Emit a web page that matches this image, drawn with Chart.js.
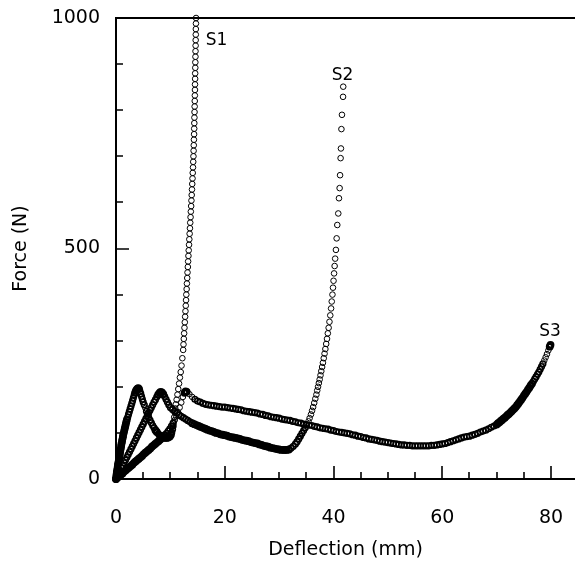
<!DOCTYPE html>
<html>
<head>
<meta charset="utf-8">
<script src="https://cdn.jsdelivr.net/npm/chart.js@4.4.1/dist/chart.umd.min.js"></script>
<style>
  html, body { margin: 0; padding: 0; background: #fff; }
  #wrap { width: 575px; height: 563px; position: relative; }
</style>
</head>
<body>
<div id="wrap"><canvas id="c"></canvas></div>
<script>
// ---- data: [deflection (mm), force (N)] ----
const s1 = [[0,0],[0.05,5],[0.1,10],[0.15,15],[0.2,19],[0.3,25],[0.35,30],[0.4,34],[0.5,39],[0.55,44],[0.6,48],[0.7,53],[0.75,58],[0.8,62],[0.9,67],[0.95,72],[1.0,76],[1.1,81],[1.15,85],[1.25,90],[1.3,94],[1.4,99],[1.5,104],[1.6,109],[1.7,114],[1.8,119],[1.9,124],[2.0,129],[2.15,134],[2.3,140],[2.45,146],[2.6,152],[2.75,158],[2.9,164],[3.05,170],[3.2,176],[3.35,182],[3.5,187],[3.65,191],[3.8,194],[3.95,196],[4.1,197],
[4.25,195],[4.4,190],[4.55,185],[4.7,179],[4.85,173],[5.0,167],[5.2,161],[5.4,154],[5.6,147],[5.8,141],[6.0,134],[6.25,128],[6.5,122],[6.75,116],[7.0,111],[7.25,106],[7.5,102],[7.8,98],[8.1,94],[8.4,91],[8.7,90],[9.0,89],[9.3,89],[9.6,90],[9.9,92],
[10.1,96],[10.25,101],[10.4,108],[10.5,115],[10.6,124],[10.7,134],[10.8,144],[10.9,153],[11.0,162],[11.15,172],[11.3,183],[11.45,195],[11.6,207],[11.75,220],[11.9,232],[12.05,246],[12.2,262],[12.35,280],
[12.41,292],[12.47,304],[12.53,316],[12.59,328],[12.65,340],[12.71,352],[12.77,364],[12.83,376],[12.88,388],[12.93,400],[12.99,412],[13.04,424],[13.1,436],[13.15,448],[13.21,460],[13.26,472],[13.32,484],[13.37,496],[13.43,508],[13.48,520],[13.54,532],[13.6,544],[13.65,556],[13.71,568],[13.76,580],[13.82,592],[13.87,604],[13.92,616],[13.97,628],[14.02,640],[14.07,652],[14.11,664],[14.16,676],[14.2,688],[14.24,700],[14.27,712],[14.3,724],[14.33,736],[14.36,748],[14.38,760],[14.4,772],[14.42,784],[14.44,796],[14.46,808],[14.48,820],[14.5,832],[14.52,844],[14.53,856],[14.55,868],[14.56,880],[14.58,892],[14.59,904],[14.61,916],[14.62,928],[14.64,940],[14.65,952],[14.67,964],[14.68,976],[14.7,988],[14.72,1000]];

const s2 = [[0,0],[0.25,6],[0.5,12],[0.75,18],[1.0,24],[1.25,29],[1.5,35],[1.75,41],[2.0,47],[2.25,53],[2.5,59],[2.75,65],[3.0,71],[3.25,77],[3.5,83],[3.75,89],[4.0,95],[4.25,101],[4.5,107],[4.75,113],[5.0,119],[5.25,125],[5.5,131],[5.75,137],[6.0,143],[6.25,149],[6.5,155],[6.75,161],[7.0,167],[7.25,172],[7.5,178],[7.75,183],[8.0,187],[8.2,189],
[8.45,188],[8.7,184],[8.95,179],[9.2,173],[9.45,167],[9.7,161],[10.0,155],[10.4,151],[10.8,147],[11.2,143],[11.6,139],[12.0,136],[12.4,133],[12.8,130],[13.2,127],[13.6,124],[14.0,121],[14.4,119],[14.8,117],[15.2,115],[15.6,113],[16.0,111],[16.4,109],[16.8,107],[17.2,105],[17.6,104],[18.0,102],[18.4,100],[18.8,99],[19.2,97],[19.6,96],[20.0,95],[20.4,94],[20.8,92],[21.2,91],[21.6,90],[22.0,89],[22.4,88],[22.8,87],[23.2,85],[23.6,84],[24.0,83],[24.4,82],[24.8,80],[25.2,79],[25.6,78],[26.0,77],[26.4,75],[26.8,74],[27.2,72],[27.6,71],[28.0,70],[28.4,68],[28.8,67],[29.2,66],[29.6,65],[30.0,64],[30.4,63],[30.8,63],[31.1,63],
[31.4,63],[31.8,64],[32.2,67],[32.6,71],[33.0,76],[33.3,81],[33.6,87],[33.9,93],[34.2,99],[34.5,105],[34.8,111],[35.1,118],[35.4,125],[35.6,132],[35.85,140],[36.05,148],[36.25,156],[36.45,165],[36.65,174],[36.85,183],[37.0,192],[37.15,200],[37.3,208],[37.45,216],[37.6,225],[37.75,234],[37.9,243],[38.05,252],[38.2,262],[38.35,272],[38.5,282],[38.65,293],[38.8,304],[38.95,316],[39.1,328],[39.25,341],[39.4,355],[39.55,370],[39.67,385],[39.8,400],[39.9,415],[40.0,430],[40.1,446],[40.2,462],[40.3,478],[40.44,497],[40.57,522],[40.69,551],[40.87,576],[41.0,609],[41.12,631],[41.2,659],[41.3,696],[41.36,717],[41.45,759],[41.55,790],[41.75,829],[41.78,851]];

const s3 = [[0,0],[0.3,3],[0.6,6],[0.9,9],[1.2,12],[1.5,16],[1.8,19],[2.1,22],[2.4,25],[2.7,28],[3.0,31],[3.3,35],[3.6,38],[3.9,41],[4.2,44],[4.5,47],[4.8,50],[5.1,54],[5.4,57],[5.7,60],[6.0,63],[6.3,66],[6.6,70],[6.9,73],[7.2,76],[7.5,79],[7.8,82],[8.1,85],[8.4,89],[8.7,92],[9.0,95],[9.3,99],[9.6,104],[9.9,109],[10.2,115],[10.5,121],[10.8,128],[11.1,136],[11.4,145],[11.7,155],[12.0,166],[12.3,178],[12.6,187],[12.8,190],
[13.0,189],[13.5,184],[14.0,178],[14.5,173],[15.0,169],[15.5,167],[16.0,164],[16.5,162],[17.0,161],[17.5,160],[18.0,159],[18.5,158],[19.0,157],[19.5,156],[20.0,156],[20.5,155],[21.0,154],[21.5,153],[22.0,152],[22.5,151],[23.0,150],[23.5,148],[24.0,147],[24.5,146],[25.0,145],[25.5,144],[26.0,143],[26.5,141],[27.0,140],[27.5,138],[28.0,137],[28.5,135],[29.0,134],[29.5,133],[30.0,132],[30.5,130],[31.0,129],[31.5,128],[32.0,127],[32.5,125],[33.0,124],[33.5,122],[34.0,121],[34.5,119],[35.0,118],[35.5,117],[36.0,116],[36.5,114],[37.0,113],[37.5,111],[38.0,110],[38.5,109],[39.0,108],[39.5,106],[40.0,105],[40.5,103],[41.0,102],[41.5,101],[42.0,100],[42.5,99],[43.0,98],[43.5,96],[44.0,95],[44.5,93],[45.0,92],[45.5,90],[46.0,89],[46.5,87],[47.0,86],[47.5,85],[48.0,84],[48.5,82],[49.0,81],[49.5,80],[50.0,79],[50.5,78],[51.0,77],[51.5,76],[52.0,75],[52.5,74],[53.0,74],[53.5,73],[54.0,73],[54.5,72],[55.0,72],[55.5,72],[56.0,72],[56.5,72],[57.0,72],[57.5,72],[58.0,73],[58.5,73],[59.0,74],[59.5,75],[60.0,76],[60.5,77],[61.0,79],[61.5,81],[62.0,83],[62.5,85],[63.0,87],[63.5,89],[64.0,91],[64.5,92],[65.0,93],[65.5,95],[66.0,97],[66.5,99],[67.0,102],[67.5,104],[68.0,106],[68.5,109],[69.0,112],[69.5,115],
[70.0,118],[70.25,121],[70.5,123],[70.75,126],[71.0,128],[71.25,131],[71.5,133],[71.75,136],[72.0,139],[72.25,141],[72.5,144],[72.75,147],[73.0,150],[73.25,153],[73.5,156],[73.75,160],[74.0,164],[74.25,168],[74.5,172],[74.75,176],[75.0,181],[75.25,185],[75.5,189],[75.75,194],[76.0,198],[76.25,203],[76.5,207],[76.75,212],[77.0,217],[77.25,222],[77.5,227],[77.75,232],[78.0,238],[78.25,244],[78.5,250],[78.75,257],[79.0,264],[79.25,271],[79.5,279],[79.75,287],[79.9,291]];

// ---- tick labels and annotations ----
const xTickLabels = [0, 20, 40, 60, 80];
const yTickLabels = [0, 500, 1000];
const xMinorTicks = [5, 10, 15, 25, 30, 35, 45, 50, 55, 65, 70, 75];
const yMinorTicks = [100, 200, 300, 400, 600, 700, 800, 900];
const seriesNames = ['S1', 'S2', 'S3'];
const nameDefl = [18.5, 41.65, 79.8];
const nameForce = [951, 876, 319];

const toPts = arr => arr.map(p => ({ x: p[0], y: p[1] }));
const FONT = "'DejaVu Sans', sans-serif";

const frameTicks = {
  id: 'frameTicks',
  afterDatasetsDraw(chart) {
    const { ctx, chartArea: a, scales: { x, y } } = chart;
    ctx.save();
    ctx.strokeStyle = '#000';
    ctx.lineWidth = 2;
    ctx.beginPath();
    ctx.moveTo(a.left, a.top); ctx.lineTo(a.right, a.top);
    ctx.moveTo(a.left, a.top - 1); ctx.lineTo(a.left, a.bottom);
    ctx.lineTo(a.right, a.bottom);
    ctx.stroke();
    ctx.lineWidth = 1.6;
    ctx.beginPath();
    xTickLabels.forEach(v => { const px = Math.round(x.getPixelForValue(v)); ctx.moveTo(px, a.bottom); ctx.lineTo(px, a.bottom - 13); });
    xMinorTicks.forEach(v => { const px = Math.round(x.getPixelForValue(v)); ctx.moveTo(px, a.bottom); ctx.lineTo(px, a.bottom - 7); });
    yTickLabels.forEach(v => { const py = Math.round(y.getPixelForValue(v)); ctx.moveTo(a.left, py); ctx.lineTo(a.left + 13, py); });
    yMinorTicks.forEach(v => { const py = Math.round(y.getPixelForValue(v)); ctx.moveTo(a.left, py); ctx.lineTo(a.left + 7, py); });
    ctx.stroke();
    ctx.fillStyle = '#000';
    ctx.font = "17px " + FONT;
    ctx.textAlign = 'center';
    ctx.textBaseline = 'middle';
    seriesNames.forEach((n, i) => {
      ctx.fillText(n, x.getPixelForValue(nameDefl[i]), y.getPixelForValue(nameForce[i]));
    });
    ctx.restore();
  }
};

// darker rings where the samples crowd together (as in the printed figure)
function ringWidth(c) {
  const data = c.dataset.data, i = c.dataIndex, sx = c.chart.scales.x, sy = c.chart.scales.y;
  if (!sx || !sy || !data[i]) return 1;
  const px = p => [sx.getPixelForValue(p.x), sy.getPixelForValue(p.y)];
  const cur = px(data[i]);
  let d = Infinity;
  [i - 1, i + 1].forEach(j => {
    if (data[j]) { const q = px(data[j]); d = Math.min(d, Math.hypot(q[0] - cur[0], q[1] - cur[1])); }
  });
  if (d < 2.4) return 2.2;
  if (d < 3.4) return 1.6;
  return 1;
}

const ds = (label, arr) => ({
  label,
  data: toPts(arr),
  showLine: false,
  pointRadius: 2.8,
  pointHoverRadius: 2.8,
  pointBorderWidth: ringWidth,
  pointBorderColor: '#000',
  pointBackgroundColor: 'rgba(0,0,0,0)',
  clip: false
});

new Chart(document.getElementById('c'), {
  type: 'scatter',
  data: { datasets: [ds('S1', s1), ds('S2', s2), ds('S3', s3)] },
  options: {
    responsive: true,
    maintainAspectRatio: false,
    animation: false,
    events: [],
    layout: { autoPadding: false, padding: { top: 18, right: 0, left: 0, bottom: 0 } },
    plugins: { legend: { display: false }, tooltip: { enabled: false } },
    scales: {
      x: {
        type: 'linear', min: 0, max: 84.4,
        afterBuildTicks: s => { s.ticks = xTickLabels.map(v => ({ value: v })); },
        afterFit: s => { s.height = 84; s.paddingLeft = 0; s.paddingRight = 0; },
        grid: { display: false },
        border: { display: false },
        ticks: { color: '#000', font: { family: FONT, size: 19 }, padding: 20, maxRotation: 0, callback: v => String(v) },
        title: { display: true, text: 'Deflection (mm)', color: '#000', font: { family: FONT, size: 19, lineHeight: 1 }, padding: { top: 0, bottom: 3 } }
      },
      y: {
        type: 'linear', min: 0, max: 1000,
        afterBuildTicks: s => { s.ticks = yTickLabels.map(v => ({ value: v })); },
        afterFit: s => { s.width = 116; s.paddingTop = 0; s.paddingBottom = 0; },
        grid: { display: false },
        border: { display: false },
        ticks: { color: '#000', font: { family: FONT, size: 19 }, padding: 8, callback: v => String(v) },
        title: { display: true, text: 'Force (N)', color: '#000', font: { family: FONT, size: 19, lineHeight: 1 }, padding: { top: 12, bottom: 0 } }
      }
    }
  },
  plugins: [frameTicks]
});
</script>
</body>
</html>
